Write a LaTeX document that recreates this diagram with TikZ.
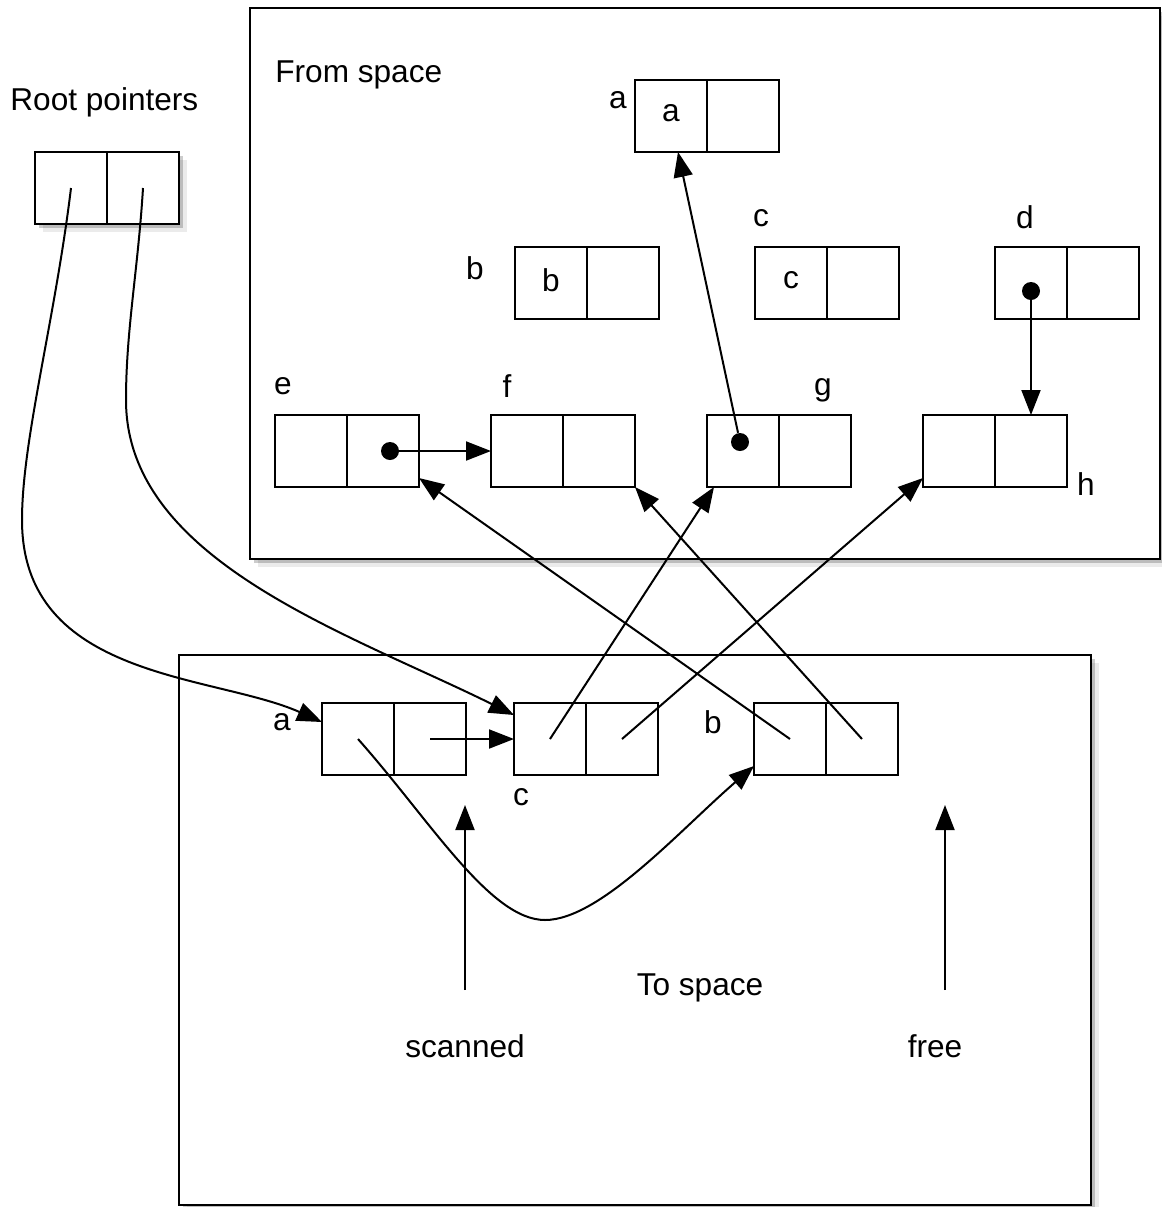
\documentclass[tikz,border=0pt]{standalone}
\usepackage{fontspec}
\setmainfont{Liberation Sans}
\usetikzlibrary{positioning,arrows.meta,shadows}

\tikzset{
  cell/.style={draw, fill=white, line width=1.3pt, minimum width=36pt, minimum height=36pt, inner sep=0pt, outer sep=0pt, text depth=3pt},
  softshadow/.style={drop shadow={shadow xshift=2pt, shadow yshift=-2pt, fill=black, opacity=0.2},
                     drop shadow={shadow xshift=4pt, shadow yshift=-4pt, fill=black, opacity=0.08}},
  region/.style={draw, line width=1.2pt, fill=white, softshadow},
  rootcell/.style={cell, softshadow},
  ptr/.style={line width=1pt, -{Triangle[length=12.5pt,width=9.5pt]}},
  dot/.style={circle, fill=black, inner sep=0pt, minimum size=9pt},
  lbl/.style={inner sep=0pt, anchor=base},
}

\begin{document}
\begin{tikzpicture}[x=0.5pt, y=-0.5pt, font=\fontsize{15.8pt}{19pt}\selectfont]
  \useasboundingbox (0,0) rectangle (1162,1207);

  % Regioni
  \draw[region] (250,8) rectangle (1160,559);
  \draw[region] (179,655) rectangle (1091,1205);
  \node[lbl, anchor=base west] (fromtxt) at (275,82) {From space};
  \node[lbl] (totxt) at (700,995) {To space};
  \node[lbl, anchor=base west] (roottxt) at (10,110) {Root pointers};

  % Puntatori radice
  \node[rootcell] (root1) at (71,188) {};
  \node[rootcell, right=0pt of root1] (root2) {};

  % Celle nel from space
  \foreach \n/\x/\y/\t in {fa/635/80/a, fb/515/247/b, fc/755/247/c, fd/995/247/{},
                           fe/275/415/{}, ff/491/415/{}, fg/707/415/{}, fh/923/415/{}}
  {
    \node[cell] (\n1) at (\x+36,\y+36) {\t};
    \node[cell, right=0pt of \n1] (\n2) {};
  }

  % Celle nel to space
  \foreach \n/\x in {ta/322, tc/514, tb/754}
  {
    \node[cell] (\n1) at (\x+36,739) {};
    \node[cell, right=0pt of \n1] (\n2) {};
  }

  % Etichette
  \foreach \n/\x/\y/\t in {lfa/618/108/a, lfb/475/279/b, lfc/761/226/c, lfd/1025/228/d,
                           lfe/283/394/e, lff/507/397/f, lfg/823/395/g, lfh/1086/495/h,
                           lta/282/730/a, ltb/713/733/b, ltc/521/805/c}
    \node[lbl] (\n) at (\x,\y) {\t};

  % Punti
  \node[dot] (de) at (390,451) {};
  \node[dot] (dd) at (1031,291) {};
  \node[dot] (dg) at (740,442) {};

  % Frecce nel from space
  \draw[ptr] (de) -- (ff1.west);
  \draw[ptr] (dd) -- (fh2.north);
  \draw[ptr] (dg) -- ([xshift=3.5pt]fa1.south);

  % Frecce dal to space
  \draw[ptr] (ta2.center) -- (tc1.west);
  \draw[ptr] (tc1.center) -- ([xshift=3.5pt]fg1.south west);
  \draw[ptr] (tc2.center) -- ([yshift=4.5pt]fh1.south west);
  \draw[ptr] (tb1.center) -- ([yshift=4.5pt]fe2.south east);
  \draw[ptr] (tb2.center) -- (ff2.south east);
  \draw[ptr] (ta1.center) .. controls (430,820) and (490,920) .. (545,920)
                          .. controls (600,920) and (680,830) .. ([yshift=4.5pt]tb1.south west);

  % Frecce dalle radici
  \draw[ptr] (root1.center) .. controls (55,320) and (22,440) .. (22,520)
                            .. controls (22,680) and (214,674) .. ([yshift=8.5pt]ta1.west);
  \draw[ptr] (root2.center) .. controls (138,270) and (126,330) .. (126,400)
                            .. controls (126,560) and (346,632) .. ([yshift=12pt]tc1.west);

  % scanned e free
  \node[lbl] (scan) at (465,1057) {scanned};
  \node[lbl] (free) at (935,1057) {free};
  \coordinate (scanfoot) at (465,990);
  \coordinate (scanhead) at (465,805);
  \coordinate (freefoot) at (945,990);
  \coordinate (freehead) at (945,805);
  \draw[ptr] (scanfoot) -- (scanhead);
  \draw[ptr] (freefoot) -- (freehead);
\end{tikzpicture}
\end{document}
